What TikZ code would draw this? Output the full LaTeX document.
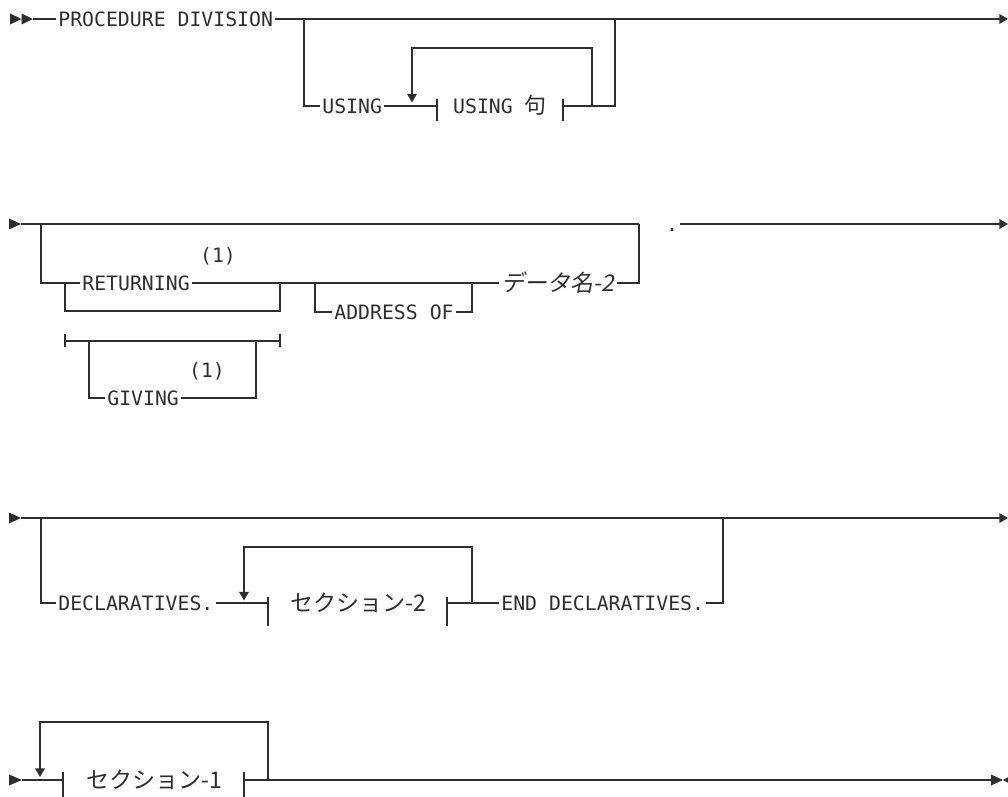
\documentclass[tikz,border=0pt]{standalone}
\usepackage{fontspec}
\usepackage{tikz}
\usetikzlibrary{arrows.meta, positioning, calc}
\newfontfamily\railfont{DejaVu Sans Mono}
\newfontfamily\jpfont{Noto Sans CJK JP}
\newfontfamily\jpitfont[FakeSlant=0.2]{Noto Sans CJK JP}
\definecolor{Rail}{HTML}{2E2E2E}
\tikzset{
    rail/.style={Rail, line width=0.7pt},
    railtip/.style={-{Triangle[length=4.3pt, width=4.8pt]}},
    kw/.style={text=Rail, font=\railfont\fontsize{9.9}{12}\selectfont, inner xsep=1pt, inner ysep=0pt, text height=7.2pt, text depth=0pt},
    jp/.style={text=Rail, font=\jpfont\fontsize{11.5}{13}\selectfont, inner sep=0pt, text height=8.4pt, text depth=0pt},
    jpit/.style={jp, font=\jpitfont\fontsize{11.5}{13}\selectfont, inner xsep=1pt}
}

\begin{document}
\begin{tikzpicture}[x=0.5pt, y=-0.5pt]
    \useasboundingbox (0,0) rectangle (1008,797);
    \clip (0,0) rectangle (1008,797);

    % PROCEDURE DIVISION / USING
    \fill[Rail] (10,13.5) -- (21.5,19) -- (10,24.5) -- cycle (21.5,13.5) -- (33,19) -- (21.5,24.5) -- cycle;
    \coordinate (s1) at (33,19);
    \coordinate (j1a) at (304,19);
    \coordinate (j1b) at (615,19);
    \coordinate (e1) at (1008,19);
    \node[kw, anchor=west] (proc) at (56,19) {PROCEDURE DIVISION};
    \node[kw, anchor=west] (using) at (320,106) {USING};
    \node[kw] (usingcl) at (500,106) {USING {\jpfont\fontsize{11}{13}\selectfont 句}};
    \coordinate (b1l) at (437,106);
    \coordinate (b1r) at (563,106);
    \coordinate (l1r) at (592,106);
    \coordinate (l1a) at (412,102.5);
    \draw[rail] (s1) -- (proc.west);
    \draw[rail, railtip] (proc.east) -- (e1);
    \draw[rail] (j1a) |- (using.west);
    \draw[rail] (using.east) -- (b1l);
    \draw[rail] (b1r) -| (j1b);
    \draw[rail, railtip] (l1r) -- ++(0,-58) -| (l1a);
    \draw[rail] (b1l) ++(0,-7) -- ++(0,22);
    \draw[rail] (b1r) ++(0,-7) -- ++(0,22);

    % RETURNING / GIVING
    \fill[Rail] (9,218.5) -- (21,224) -- (9,229.5) -- cycle;
    \coordinate (s2) at (21,224);
    \coordinate (j2a) at (41,224);
    \coordinate (j2b) at (639,224);
    \coordinate (e2) at (1008,224);
    \node[kw] (dot) at (672,224) {.};
    \node[kw, anchor=west] (ret) at (80,283) {RETURNING};
    \node[kw] (note1) at (218,255) {(1)};
    \node[kw, anchor=west] (addr) at (332,312) {ADDRESS OF};
    \node[jpit, anchor=west] (dname) at (499,283) {データ名-2};
    \coordinate (r2a) at (65,283);
    \coordinate (r2b) at (280,283);
    \coordinate (r2c) at (280,311);
    \coordinate (a2a) at (315,283);
    \coordinate (a2b) at (472,283);
    \draw[rail] (s2) -- (j2b);
    \draw[rail, railtip] (dot.east) -- (e2);
    \draw[rail] (j2a) |- (ret.west);
    \draw[rail] (ret.east) -- (dname.west);
    \draw[rail] (r2a) |- (r2c) -- (r2b);
    \draw[rail] (a2a) |- (addr.west);
    \draw[rail] (addr.east) -| (a2b);
    \draw[rail] (dname.east) -| (j2b);
    \coordinate (g2a) at (65,341);
    \coordinate (g2b) at (280,341);
    \coordinate (g2c) at (89,341);
    \coordinate (g2d) at (256,341);
    \node[kw, anchor=west] (giv) at (105,398) {GIVING};
    \node[kw] (note2) at (207,370) {(1)};
    \draw[rail] (g2a) -- (g2b);
    \draw[rail] (g2a) ++(0,-7) -- ++(0,13);
    \draw[rail] (g2b) ++(0,-7) -- ++(0,13);
    \draw[rail] (g2c) |- (giv.west);
    \draw[rail] (giv.east) -| (g2d);

    % DECLARATIVES
    \fill[Rail] (9,512.5) -- (21,518) -- (9,523.5) -- cycle;
    \coordinate (s3) at (21,518);
    \coordinate (j3a) at (41,518);
    \coordinate (j3b) at (723,518);
    \coordinate (e3) at (1008,518);
    \node[kw, anchor=west] (decl) at (56,603) {DECLARATIVES.};
    \node[jp] (sec2) at (358,603) {セクション-2};
    \node[kw, anchor=west] (enddecl) at (499,603) {END DECLARATIVES.};
    \coordinate (b3l) at (268,603);
    \coordinate (b3r) at (447,603);
    \coordinate (l3r) at (472,603);
    \coordinate (l3a) at (244,600.5);
    \draw[rail, railtip] (s3) -- (e3);
    \draw[rail] (j3a) |- (decl.west);
    \draw[rail] (decl.east) -- (b3l);
    \draw[rail] (b3r) -- (enddecl.west);
    \draw[rail] (enddecl.east) -| (j3b);
    \draw[rail, railtip] (l3r) -- ++(0,-56) -| (l3a);
    \draw[rail] (b3l) ++(0,-6) -- ++(0,29);
    \draw[rail] (b3r) ++(0,-6) -- ++(0,29);

    % セクション-1
    \fill[Rail] (9,774.5) -- (22,780) -- (9,785.5) -- cycle;
    \coordinate (s4) at (22,780);
    \coordinate (b4l) at (63,780);
    \coordinate (b4r) at (244,780);
    \coordinate (l4r) at (268,780);
    \coordinate (l4a) at (40,777);
    \coordinate (e4) at (992,780);
    \node[jp] (sec1) at (154,780) {セクション-1};
    \draw[rail] (s4) -- (b4l);
    \draw[rail] (b4r) -- (e4);
    \draw[rail, railtip] (l4r) -- ++(0,-58) -| (l4a);
    \draw[rail] (b4l) ++(0,-8) -- ++(0,25);
    \draw[rail] (b4r) ++(0,-8) -- ++(0,25);
    \draw[Rail, line width=1.2pt] (273,780) -- (297,780);
    \fill[Rail] (991,774.5) -- (1003,780) -- (991,785.5) -- cycle;
    \fill[Rail] (1003,780) -- (1012,775) -- (1012,785) -- cycle;
\end{tikzpicture}
\end{document}
